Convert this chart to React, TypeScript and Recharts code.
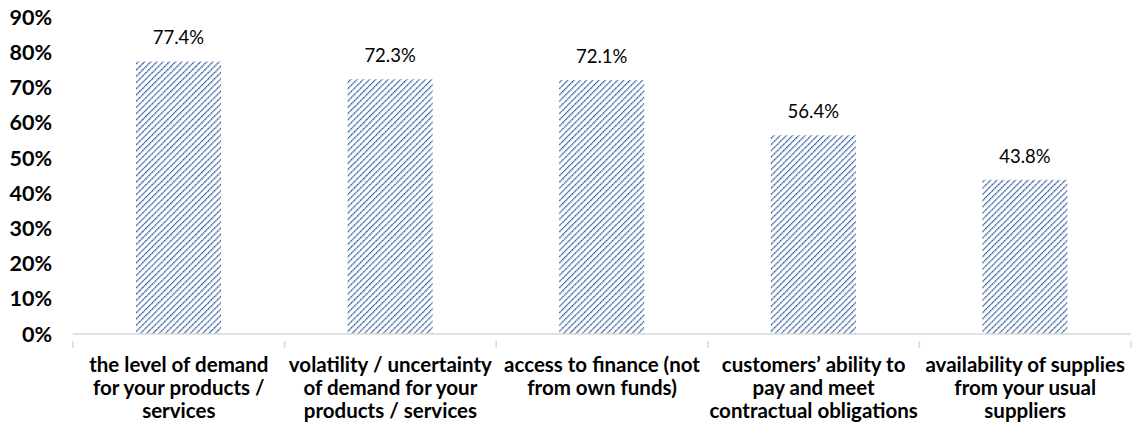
import React from "react";
import { BarChart, Bar, XAxis, YAxis, LabelList } from "recharts";

const categories = [
  "the level of demand|for your products /|services",
  "volatility / uncertainty|of demand for your|products / services",
  "access to finance (not|from own funds)",
  "customers\u2019 ability to|pay and meet|contractual obligations",
  "availability of supplies|from your usual|suppliers",
];
const shares = [0.774, 0.723, 0.721, 0.564, 0.438];
const yTicks = [0, 0.1, 0.2, 0.3, 0.4, 0.5, 0.6, 0.7, 0.8, 0.9];

const data = categories.map((name, i) => ({ name, value: shares[i] }));

const W = 1138;
const H = 425;
const LEFT = 73;
const RIGHT = 7;
const BAND = (W - LEFT - RIGHT) / categories.length;
const FONT = "Lato, 'Open Sans', sans-serif";

const CategoryTick = (props: any) => {
  const { x, y, payload, index } = props;
  const lines = String(payload.value).split("|");
  const left = x - BAND / 2;
  return (
    <g>
      <line x1={left} y1={y - 1} x2={left} y2={y + 6} stroke="#d9d9d9" strokeWidth={1.5} />
      {index === categories.length - 1 && (
        <line x1={left + BAND} y1={y - 1} x2={left + BAND} y2={y + 6} stroke="#d9d9d9" strokeWidth={1.5} />
      )}
      <text
        x={x}
        y={y + 30}
        textAnchor="middle"
        fontFamily={FONT}
        fontWeight="bold"
        fontSize={20.5}
        fill="#000"
      >
        {lines.map((l, k) => (
          <tspan key={k} x={x} dy={k === 0 ? 0 : 23}>
            {l}
          </tspan>
        ))}
      </text>
    </g>
  );
};

export default function App() {
  return (
    <div style={{ position: "fixed", left: 0, top: 0, width: W, height: H, background: "#fff" }}>
      <BarChart
        width={W}
        height={H}
        data={data}
        margin={{ top: 17, right: RIGHT, left: 0, bottom: 0 }}
        barSize={85}
        style={{ overflow: "visible" }}
      >
        <defs>
          <pattern id="hatch" patternUnits="userSpaceOnUse" width={4.4} height={4.4} patternTransform="rotate(45)">
            <rect width={4.4} height={4.4} fill="#fff" />
            <line x1={0} y1={0} x2={0} y2={4.4} stroke="#2A5898" strokeWidth={2.5} strokeDasharray="1.7 0.5" />
          </pattern>
        </defs>
        <XAxis
          dataKey="name"
          height={91}
          interval={0}
          tickLine={false}
          axisLine={{ stroke: "#d9d9d9", strokeWidth: 1.5 }}
          tick={<CategoryTick />}
        />
        <YAxis
          width={LEFT}
          domain={[0, 0.9]}
          ticks={yTicks}
          interval={0}
          axisLine={false}
          tickLine={false}
          tickSize={0}
          tickMargin={21}
          tickFormatter={(v: number) => `${Math.round(v * 100)}%`}
          tick={{ fontFamily: FONT, fontWeight: "bold", fontSize: 21.5, fill: "#000" }}
        />
        <Bar dataKey="value" fill="url(#hatch)" isAnimationActive={false}>
          <LabelList
            dataKey="value"
            position="top"
            offset={17}
            formatter={(v: any) => `${(Number(v) * 100).toFixed(1)}%`}
            style={{ fontFamily: FONT, fontSize: 18.5, fill: "#000" }}
          />
        </Bar>
      </BarChart>
    </div>
  );
}
